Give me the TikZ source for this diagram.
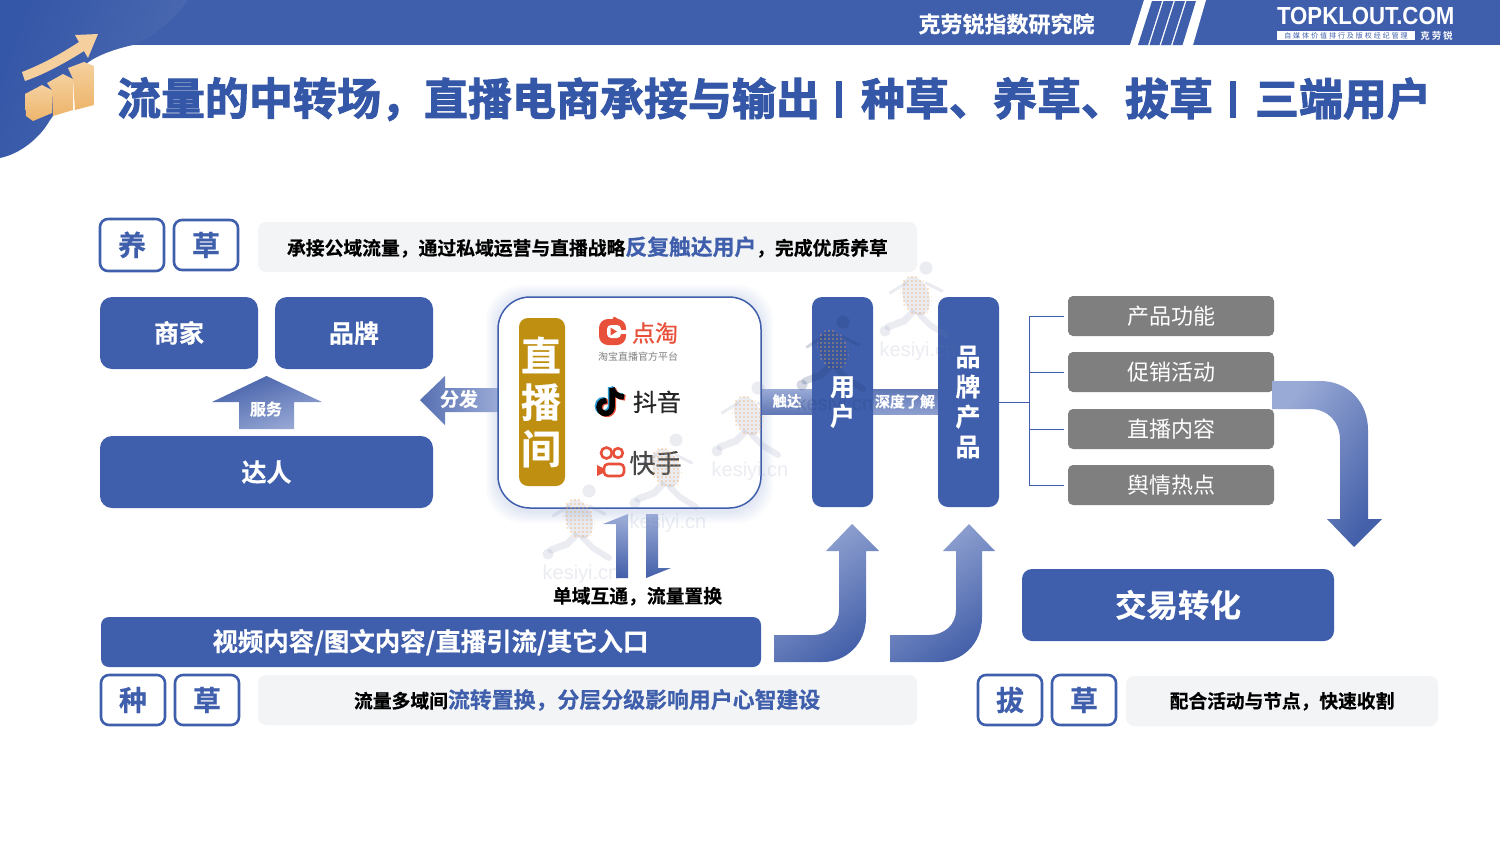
\documentclass[tikz,border=0pt]{standalone}
\usepackage{graphicx}
\usepackage{fontspec}
\setmainfont{Noto Sans CJK SC}[BoldFont={Noto Sans CJK SC Bold}]
\newfontfamily\heavy{Noto Sans CJK SC Bold}[FakeBold=2.2]
\newfontfamily\semi{Noto Sans CJK SC Bold}[FakeBold=0.5]
\newfontfamily\medium{Noto Sans CJK SC}[FakeBold=0.7]
\newfontfamily\latinb{Liberation Sans Bold}
\newfontfamily\latinr{Liberation Sans}
\usetikzlibrary{calc}
\definecolor{kblue}{HTML}{3F5FAC}
\definecolor{tblue}{HTML}{3557A7}
\definecolor{klight}{HTML}{9AAAD6}
\definecolor{kdark}{HTML}{4460A9}
\definecolor{kgray}{HTML}{7F7F7F}
\definecolor{knote}{HTML}{F3F4F6}
\definecolor{kgold}{HTML}{BF8F12}
\definecolor{kred}{HTML}{E8503A}
\definecolor{kor}{HTML}{F5A95B}
\definecolor{ksand}{HTML}{F5D09E}
\definecolor{ksandd}{HTML}{EDB56B}
\definecolor{wmgray}{HTML}{6F7FA8}
\definecolor{wmdark}{HTML}{22376F}
\newcommand\tx[2]{\fontsize{#1}{#1}\selectfont\rule[-.12em]{0pt}{1em}#2}
\tikzset{
  lbl/.style={inner sep=0pt,outer sep=0pt},
  bluebox/.style={fill=kblue,rounded corners=#1,inner sep=0pt,outer sep=0pt,text=white},
  bluebox/.default=12pt,
  graybox/.style={fill=kgray,rounded corners=5pt,inner sep=0pt,outer sep=0pt,text=white,minimum width=206pt,minimum height=40pt},
  tagbox/.style={draw=kblue,line width=2.6pt,fill=white,rounded corners=8pt,inner sep=0pt,minimum width=64pt,minimum height=51pt,text=kblue},
  notebox/.style={fill=knote,rounded corners=8pt,inner sep=0pt,minimum height=50pt},
  sized/.style 2 args={minimum width=#1pt,minimum height=#2pt},
  gradup/.style={left color=klight,right color=kdark,shading angle=35},
  branch/.style={draw=kblue,line width=1pt},
}
% #1,#2 position of the word, #3 colour, #4 opacity
\newcommand\watermark[4]{%
 \begin{scope}[shift={(#1,#2)},opacity=#4]
  \fill[#3] (8,-83) circle (6.5);
  \fill[#3,rotate around={20:(-2,-55)}] (-2,-55) ellipse (13 and 20);
  \draw[#3,line width=7pt,line cap=round,line join=round] (-6,-38)--(-14,-30)--(-30,-24);
  \fill[#3] (-33,-20) circle (5.5);
  \draw[#3,line width=6pt,line cap=round,line join=round] (2,-36)--(12,-26)--(28,-16);
  \draw[#3,line width=3pt,line cap=round] (-12,-68)--(-28,-58);
  \draw[#3,line width=3pt,line cap=round] (8,-68)--(24,-60);
  \node[lbl,text=#3] at (0,0) {\latinr\fontsize{20}{20}\selectfont kesiyi.cn};
 \end{scope}
 \begin{scope}[shift={(#1,#2)},opacity=.7]
  \clip[rotate around={20:(-2,-55)}] (-2,-55) ellipse (15 and 21);
  \foreach \i in {-18,-14,...,14} \foreach \j in {-78,-74,...,-34}
   \fill[kor] (\i,\j) circle (.85);
 \end{scope}}
\begin{document}
\begin{tikzpicture}[x=1pt,y=-1pt]
\useasboundingbox (0,0) rectangle (1500,844);
\fill[white] (0,0) rectangle (1500,844);
% header
\fill[kblue] (130,0) rectangle (1500,45);
\shade[left color=tblue,right color=kblue!93!white,shading angle=70]
  (0,0) -- (188,0) .. controls (170,25) and (150,38) .. (133,45)
  .. controls (110,50) and (92,58) .. (85,65)
  .. controls (70,85) and (58,110) .. (50,120)
  .. controls (40,138) and (20,154) .. (0,158) -- cycle;
\fill[white] (1144,0) -- (1206,0) -- (1193,45) -- (1130,45) -- cycle;
\fill[kblue] (1152,1) -- (1162,1) -- (1148,45) -- (1138,45) -- cycle;
\fill[kblue] (1163.5,1) -- (1173.5,1) -- (1159.5,45) -- (1149.5,45) -- cycle;
\fill[kblue] (1175,1) -- (1185,1) -- (1171,45) -- (1161,45) -- cycle;
\fill[kblue] (1186.5,1) -- (1196,1) -- (1182.5,45) -- (1172.5,45) -- cycle;
\node[lbl,text=white] (inst) at (1006.5,24) {\tx{22}{\semi 克劳锐指数研究院}};
\node[lbl,text=white,anchor=west] (tk) at (1277,16) {\scalebox{0.945}[1.05]{\latinb\fontsize{23.5}{24}\selectfont TOPKLOUT.COM}};
\node[lbl,fill=white,minimum width=138pt,minimum height=9.5pt,text=kblue] (tks) at (1346,35.5) {\fontsize{7}{7}\selectfont\addfontfeatures{LetterSpace=28}自媒体价值排行及版权经纪管理};
\node[lbl,text=white] (tkb) at (1436.5,35.5) {\fontsize{9.5}{10}\selectfont\bfseries\addfontfeatures{LetterSpace=20}克劳锐};
% icon
\shade[top color=ksand,bottom color=ksandd] (25,94) -- (42,85) -- (52,90) -- (52,113) -- (33,121) -- (26,116) -- cycle;
\shade[top color=ksand,bottom color=ksandd] (47,83) -- (63,74) -- (73,79) -- (73,110) -- (53,116) -- (52,90) -- cycle;
\shade[top color=ksand,bottom color=ksandd] (68,68) -- (84,62) -- (94,66) -- (94,105) -- (75,110) -- (73,79) -- cycle;
\fill[ksand] (22,72) .. controls (45,63) and (62,53) .. (79,42) -- (75,35) -- (98,34) -- (88,58) -- (84,51)
  .. controls (65,63) and (45,74) .. (25,81) -- cycle;
% title
\node[lbl,anchor=west,text=tblue] (t1) at (117,98.5) {\tx{44}{\heavy 流量的中转场，}};
\node[lbl,anchor=west,text=tblue] (t2) at (424,98.5) {\tx{44}{\heavy 直播电商承接与输出}};
\fill[tblue] (835.5,81) rectangle (841.5,118);
\node[lbl,anchor=west,text=tblue] (t3) at (861,98.5) {\tx{44}{\heavy 种草、养草、拔草}};
\fill[tblue] (1230,81) rectangle (1236,118);
\node[lbl,anchor=west,text=tblue] (t4) at (1255,98.5) {\tx{44}{\heavy 三端用户}};
% yangcao
\node[tagbox,sized={64}{52}] (yang) at (132,245) {\tx{28}{\semi 养}};
\node[tagbox,sized={64}{50}] (cao1) at (206,245) {\tx{28}{\semi 草}};
\node[notebox,sized={659}{50}] (n1) at (587.5,247) {};
\node[lbl,anchor=west] (n1t) at (287,247) {\tx{18.8}{\semi 承接公域流量，通过私域运营与直播战略\textcolor{kblue}{\fontsize{21.8}{21.8}\selectfont 反复触达用户}\fontsize{18.8}{18.8}\selectfont ，完成优质养草}};
% left group
\node[bluebox,sized={158}{72}] (shang) at (179,333) {\tx{25}{\semi 商家}};
\node[bluebox,sized={158}{72}] (pin) at (354,333) {\tx{25}{\semi 品牌}};
\node[bluebox,sized={333}{72}] (da) at (266.5,472) {\tx{25}{\semi 达人}};
\shade[gradup,shading angle=200] (266.5,376) -- (322,402) -- (294,402) -- (294,429) -- (239,429) -- (239,402) -- (212,402) -- cycle;
\node[lbl,text=white] (fw) at (266,409) {\tx{16}{\semi 服务}};
% center box and connectors
\foreach \k in {12,10,...,2}
  \fill[kblue,opacity=.022,rounded corners=36pt] (498-\k,297-\k) rectangle (761+\k,508+\k+3);
\shade[left color=klight,right color=kdark!85!white,shading angle=0] (761,389) rectangle (812,414);
\shade[left color=kdark!85!white,right color=klight!85!kdark,shading angle=0] (873,389) rectangle (938,414);
\shade[left color=kdark!90!white,right color=klight] (420,400) -- (445,376) -- (445,388) -- (498,388) -- (498,412) -- (445,412) -- (445,425) -- cycle;
\node[bluebox=10pt,sized={61}{210}] (yh) at (842.5,402) {};
\node[bluebox=10pt,sized={61}{210}] (pp) at (968.5,402) {};
\node[draw=kblue,line width=1.5pt,fill=white,rounded corners=32pt,minimum width=263pt,minimum height=211pt,inner sep=0pt] (live) at (629.5,402.5) {};
\node[lbl,text=white] (ff) at (459,399) {\tx{19}{\semi 分发}};
\node[lbl,text=white] (cd) at (787,401) {\tx{14.5}{\semi 触达}};
\node[lbl,text=white] (sd) at (905,401.5) {\tx{15}{\semi 深度了解}};
\node[bluebox=9pt,fill=kgold,sized={46}{168}] (zbj) at (542,402) {};
\node[lbl,text=white,align=center,font=\fontsize{40}{46.5}\selectfont\semi] (zbjt) at (541,402) {直\\播\\间};
% dian tao
\fill[kred,rounded corners=9pt] (599,319) rectangle (626,345);
\fill[kred] (612,320) -- (614,316.5) -- (620,320) -- cycle;
\fill[white,rounded corners=4pt] (607,325) rectangle (621,338);
\fill[white] (619,330) rectangle (627,333.5);
\fill[kred] (610.5,327.5) -- (617,331.5) -- (610.5,335.5) -- cycle;
\node[lbl,text=kred] (dt) at (655,333) {\tx{23}{\medium 点淘}};
\node[lbl,text=kgray] (dts) at (638,357) {\tx{10}{淘宝直播官方平台}};
% douyin
\begin{scope}[line width=5.5pt,fill=none]
\foreach \dx/\dy/\c in {-1.5/-1/cyan!70!kblue,1.3/.9/kred,0/0/black}{
 \draw[\c,xshift=\dx pt,yshift=-\dy pt] (612,388) -- (612,407) arc[start angle=0,end angle=280,radius=6.5];
 \draw[\c,xshift=\dx pt,yshift=-\dy pt] (612,388) .. controls (613,393) and (618,397) .. (624,397);
}
\end{scope}
\node[lbl,text=black!85] (dy) at (657,402) {\tx{24}{\medium 抖音}};
% kuaishou
\begin{scope}[draw=kred,line width=2.6pt]
\draw (606.5,453) circle (5.5);
\draw (618,453) circle (4.8);
\draw[rounded corners=4pt] (604,464) rectangle (624,476);
\fill[kred] (597,465) -- (603,468) -- (603,473) -- (597,476) -- cycle;
\end{scope}
\node[lbl,text=black!72] (ks) at (655.5,463) {\tx{26}{\medium 快手}};
% up/down half arrows
\shade[left color=klight,right color=kdark,shading angle=350] (628,514) -- (628,578) -- (616,578) -- (616,524) -- (603,524) -- cycle;
\shade[left color=kdark,right color=klight,shading angle=180] (646,514) -- (658,514) -- (658,568) -- (671,568) -- (646,578) -- cycle;
\node[lbl] (dyh) at (637.5,596) {\tx{18.8}{\semi 单域互通，流量置换}};
% bottom-left
\node[bluebox=8pt,sized={660}{50}] (video) at (431,642) {};
\node[lbl,text=white] (videot) at (430.5,642) {\tx{25.4}{\semi 视频内容/图文内容/直播引流/其它入口}};
\shade[gradup] (774,635) -- (813,635) .. controls (828,635) and (839,625) .. (839,610) -- (839,551) -- (826,551) -- (852,524) -- (879,551) -- (866,551) -- (866,617) .. controls (866,645) and (845,662) .. (823,662) -- (774,662) -- cycle;
\shade[gradup] (890,635) -- (929,635) .. controls (944,635) and (956,625) .. (956,610) -- (956,551) -- (943,551) -- (969,524) -- (995,551) -- (982,551) -- (982,617) .. controls (982,645) and (961,662) .. (939,662) -- (890,662) -- cycle;
\node[tagbox,sized={64}{50}] (zhong) at (133,700) {\tx{28}{\semi 种}};
\node[tagbox,sized={64}{50}] (cao2) at (207,700) {\tx{28}{\semi 草}};
\node[notebox,sized={659}{50}] (n2) at (587.5,700) {};
\node[lbl,anchor=west] (n2t) at (354,700) {\tx{18.8}{\semi 流量多域间\textcolor{kblue}{\fontsize{21.9}{21.9}\selectfont 流转置换，分层分级影响用户心智建设}}};
\node[tagbox,sized={64}{50}] (ba) at (1010,700) {\tx{28}{\semi 拔}};
\node[tagbox,sized={64}{50}] (cao3) at (1084,700) {\tx{28}{\semi 草}};
\node[notebox,sized={312}{50}] (n3) at (1282,701) {};
\node[lbl] (n3t) at (1282,701) {\tx{18.7}{\semi 配合活动与节点，快速收割}};
% right
\node[graybox] (g1) at (1171,316) {\tx{22}{产品功能}};
\node[graybox] (g2) at (1171,372) {\tx{22}{促销活动}};
\node[graybox] (g3) at (1171,429) {\tx{22}{直播内容}};
\node[graybox] (g4) at (1171,485) {\tx{22}{舆情热点}};
\coordinate (trunk) at (1029,402);
\draw[branch] (pp.east) -- (trunk);
\foreach \g in {g1,g2,g3,g4}
  \draw[branch,shorten >=4pt] (trunk) |- (\g.west);
\shade[left color=klight,right color=kdark,shading angle=55] (1272,381) -- (1320,381) .. controls (1348,381) and (1368,402) .. (1368,430) -- (1368,519) -- (1382,519) -- (1354,547) -- (1327,519) -- (1340,519) -- (1340,440) .. controls (1340,422) and (1328,409) .. (1310,409) -- (1272,409) -- cycle;
\node[bluebox=10pt,sized={312}{72}] (deal) at (1178,605) {\tx{31.5}{\semi 交易转化}};
% watermarks
\watermark{581}{574}{wmgray}{.14}
\watermark{668}{523}{wmgray}{.14}
\watermark{750}{471}{wmgray}{.14}
\watermark{918}{351}{wmgray}{.14}
\watermark{835}{405}{wmdark}{.2}
% texts over the watermark
\node[lbl,text=white,align=center,font=\fontsize{25}{29.5}\selectfont\semi] (yht) at (842.5,402) {用\\户};
\node[lbl,text=white,align=center,font=\fontsize{25}{30}\selectfont\semi] (ppt) at (968,402) {品\\牌\\产\\品};
\end{tikzpicture}
\end{document}
